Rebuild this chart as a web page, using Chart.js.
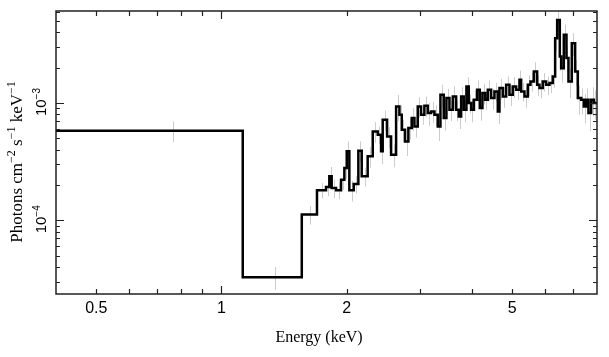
<!DOCTYPE html>
<html><head><meta charset="utf-8">
<script src="https://cdn.jsdelivr.net/npm/chart.js@4/dist/chart.umd.min.js"></script>
<style>html,body{margin:0;padding:0;background:#fff;}</style>
</head><body>
<canvas id="c" width="609" height="357"></canvas>
<script>
// Bin edges (keV)
const binEdges = [0.4, 1.125, 1.560, 1.697, 1.784, 1.817, 1.841, 1.886, 1.939, 1.975, 2.001, 2.030, 2.080,
  2.134, 2.174, 2.247, 2.311, 2.376, 2.420, 2.442, 2.502, 2.558, 2.630, 2.679, 2.714, 2.764, 2.815, 2.868,
  2.911, 2.965, 3.020, 3.076, 3.134, 3.192, 3.252, 3.313, 3.362, 3.424, 3.475, 3.534, 3.600, 3.667, 3.721,
  3.770, 3.825, 3.882, 3.933, 3.984, 4.043, 4.119, 4.180, 4.242, 4.306, 4.370, 4.451, 4.534, 4.619, 4.662,
  4.749, 4.837, 4.927, 5.019, 5.113, 5.208, 5.256, 5.354, 5.454, 5.535, 5.638, 5.743, 5.818, 5.926, 6.037,
  6.149, 6.264, 6.345, 6.416, 6.511, 6.559, 6.657, 6.756, 6.831, 6.958, 7.088, 7.194, 7.328, 7.437, 7.534,
  7.632, 7.746, 7.862, 8.0];
// Flux per bin (photons cm^-2 s^-1 keV^-1)
const fluxValues = [5.81e-4, 3.27e-5, 1.118e-4,
  1.803e-4, 1.924e-4, 2.372e-4, 1.887e-4, 1.803e-4, 2.222e-4, 2.794e-4, 3.873e-4, 1.803e-4, 2.041e-4,
  3.924e-4, 2.372e-4, 3.511e-4, 5.733e-4, 5.370e-4, 3.873e-4, 7.206e-4, 5.197e-4, 3.628e-4, 9.36e-4,
  7.95e-4, 5.92e-4, 4.71e-4, 6.12e-4, 7.44e-4, 6.32e-4, 9.36e-4, 7.95e-4, 9.48e-4, 8.21e-4,
  8.49e-4, 7.95e-4, 6.32e-4, 1.177e-3, 7.44e-4, 1.102e-3, 8.77e-4, 1.139e-3, 8.77e-4, 7.69e-4,
  1.139e-3, 8.77e-4, 1.386e-3, 9.99e-4, 8.77e-4, 1.067e-3, 1.298e-3, 9.06e-4, 1.216e-3, 1.067e-3,
  1.298e-3, 1.102e-3, 1.256e-3, 8.49e-4, 1.341e-3, 1.139e-3, 1.432e-3, 1.177e-3, 1.386e-3, 1.298e-3,
  1.580e-3, 1.256e-3, 1.139e-3, 1.432e-3, 1.529e-3, 1.860e-3, 1.432e-3, 1.341e-3, 1.529e-3, 1.432e-3,
  1.480e-3, 1.686e-3, 3.576e-3, 5.12e-3, 2.50e-3, 1.985e-3, 3.82e-3, 2.42e-3, 1.529e-3, 3.24e-3,
  1.860e-3, 1.102e-3, 1.067e-3, 9.36e-4, 1.067e-3, 8.21e-4, 1.067e-3, 9.99e-4];
// Relative 1-sigma error per bin
const fluxRelErr = [0.2, 0.22, 0.18,
  0.15, 0.17, 0.2, 0.18, 0.16, 0.18, 0.2, 0.22, 0.2, 0.17,
  0.2, 0.18, 0.2, 0.2, 0.17, 0.22, 0.2, 0.2, 0.22, 0.25,
  0.2, 0.22, 0.25, 0.2, 0.22, 0.2, 0.2, 0.18, 0.2, 0.22,
  0.2, 0.2, 0.25, 0.22, 0.22, 0.2, 0.2, 0.22, 0.2, 0.22,
  0.2, 0.22, 0.2, 0.18, 0.22, 0.2, 0.2, 0.22, 0.2, 0.18,
  0.2, 0.2, 0.18, 0.22, 0.2, 0.2, 0.18, 0.2, 0.2, 0.18,
  0.2, 0.18, 0.2, 0.2, 0.18, 0.2, 0.2, 0.18, 0.18, 0.18,
  0.18, 0.2, 0.22, 0.2, 0.25, 0.25, 0.22, 0.25, 0.28, 0.22,
  0.25, 0.28, 0.25, 0.28, 0.25, 0.3, 0.28, 0.28];
const xTickLabels = [0.5, 1, 2, 5];
const yTickExponents = [-4, -3];
const xRange = [0.4, 8.0];
const yRange = [2.35e-5, 6.1e-3];
const xAxisTitle = 'Energy (keV)';
const yAxisTitleParts = [['Photons cm', 0], ['\u22122', 1], [' s', 0], ['\u22121', 1], [' keV', 0], ['\u22121', 1]];

const stepPoints = binEdges.map((e, i) => ({x: e, y: fluxValues[Math.min(i, fluxValues.length - 1)]}));

function drawParts(ctx, parts, size, family) {
  const supSize = Math.round(size * 0.68);
  let total = 0;
  const w = parts.map(([t, s]) => { ctx.font = (s ? supSize : size) + 'px ' + family; const m = ctx.measureText(t).width; total += m; return m; });
  let x = -total / 2;
  parts.forEach(([t, s], i) => {
    ctx.font = (s ? supSize : size) + 'px ' + family;
    ctx.fillText(t, x, s ? -size * 0.42 : 0);
    x += w[i];
  });
}

const decorPlugin = {
  id: 'decor',
  beforeDatasetsDraw(chart) {
    const {ctx, chartArea: a, scales: {x, y}} = chart;
    ctx.save();
    ctx.beginPath(); ctx.rect(a.left, a.top, a.right - a.left, a.bottom - a.top); ctx.clip();
    ctx.strokeStyle = '#cccccc'; ctx.lineWidth = 1;
    ctx.beginPath();
    for (let i = 0; i < fluxValues.length; i++) {
      const c = (binEdges[i] + binEdges[i + 1]) / 2;
      const px = Math.round(x.getPixelForValue(c)) + 0.5;
      const v = fluxValues[i], e = v * fluxRelErr[i];
      ctx.moveTo(px, y.getPixelForValue(v + e));
      ctx.lineTo(px, y.getPixelForValue(v - e));
    }
    ctx.stroke();
    ctx.restore();
  },
  afterDraw(chart) {
    const {ctx, chartArea: a, scales: {x, y}} = chart;
    ctx.save();
    ctx.strokeStyle = '#222'; ctx.lineWidth = 1.5;
    ctx.strokeRect(a.left, a.top, a.right - a.left, a.bottom - a.top);
    ctx.lineWidth = 1.2;
    ctx.beginPath();
    for (let d = -1; d <= 0; d++) for (let m = 1; m <= 9; m++) {
      const v = m * Math.pow(10, d);
      if (v <= xRange[0] || v >= xRange[1]) continue;
      const px = Math.round(x.getPixelForValue(v)) + 0.5;
      const len = m === 1 ? 8 : 5;
      ctx.moveTo(px, a.bottom); ctx.lineTo(px, a.bottom - len);
      ctx.moveTo(px, a.top); ctx.lineTo(px, a.top + len);
    }
    for (let d = -5; d <= -3; d++) for (let m = 1; m <= 9; m++) {
      const v = m * Math.pow(10, d);
      if (v <= yRange[0] || v >= yRange[1]) continue;
      const py = Math.round(y.getPixelForValue(v)) + 0.5;
      const len = m === 1 ? 8 : 4;
      ctx.moveTo(a.left, py); ctx.lineTo(a.left + len, py);
      ctx.moveTo(a.right, py); ctx.lineTo(a.right - len, py);
    }
    ctx.stroke();
    ctx.fillStyle = '#000';
    ctx.font = '16px "Liberation Sans", Arial, sans-serif';
    ctx.textAlign = 'center'; ctx.textBaseline = 'alphabetic';
    xTickLabels.forEach(v => ctx.fillText(String(v), x.getPixelForValue(v), a.bottom + 19));
    ctx.textAlign = 'left';
    yTickExponents.forEach(ex => {
      const py = y.getPixelForValue(Math.pow(10, ex));
      ctx.save(); ctx.translate(a.left - 10, py - 1); ctx.rotate(-Math.PI / 2);
      drawParts(ctx, [['10', 0], ['\u2212' + Math.abs(ex), 1]], 15, '"Liberation Sans", Arial, sans-serif');
      ctx.restore();
    });
    ctx.save(); ctx.translate(22, 162); ctx.rotate(-Math.PI / 2);
    drawParts(ctx, yAxisTitleParts, 17, '"Liberation Serif", "Times New Roman", serif');
    ctx.restore();
    ctx.font = '16px "Liberation Serif", "Times New Roman", serif';
    ctx.textAlign = 'center';
    ctx.fillText(xAxisTitle, 319, 342);
    ctx.restore();
  }
};

new Chart(document.getElementById('c'), {
  type: 'line',
  data: { datasets: [{ data: stepPoints, stepped: 'before', borderColor: '#000', borderWidth: 2.5,
    pointRadius: 0, fill: false, tension: 0 }] },
  options: {
    responsive: false, animation: false,
    layout: { padding: { left: 48, right: 12, top: 11, bottom: 55 } },
    plugins: { legend: { display: false }, tooltip: { enabled: false } },
    scales: {
      x: { type: 'logarithmic', min: xRange[0], max: xRange[1], grid: { display: false },
           ticks: { display: false }, border: { display: false } },
      y: { type: 'logarithmic', min: yRange[0], max: yRange[1], grid: { display: false },
           ticks: { display: false }, border: { display: false } }
    }
  },
  plugins: [decorPlugin]
});
</script>
</body></html>
